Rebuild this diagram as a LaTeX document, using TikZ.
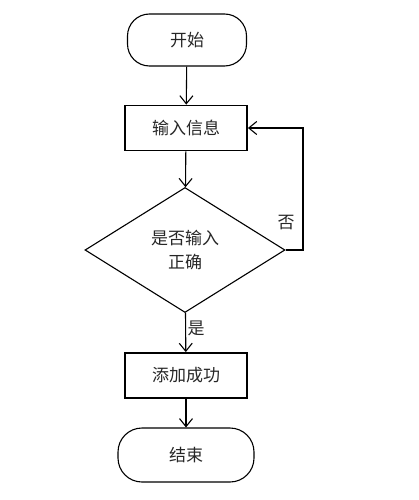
\documentclass[tikz,border=0pt]{standalone}
\usepackage{fontspec}
\newfontfamily\cjk{Noto Sans CJK SC}
\usetikzlibrary{arrows.meta,shapes.geometric}
\begin{document}
\begin{tikzpicture}[x=1pt,y=-1pt,
  every node/.style={font=\cjk\fontsize{17}{20}\selectfont, text=black!85},
  term/.style={draw, line width=1.1pt, rounded corners=22pt, minimum width=119pt, minimum height=52pt, inner sep=0pt},
  proc/.style={draw, line width=1.8pt, minimum width=122pt, minimum height=45pt, inner sep=0pt},
  dec/.style={draw, line width=1.1pt, diamond, aspect=1.6, minimum width=200pt, minimum height=125pt, inner sep=0pt, align=center},
  flow/.style={draw, line width=1.1pt, -{Straight Barb[length=8pt,width=13pt,line width=1.1pt]}}
]
\useasboundingbox (0,0) rectangle (418,500);
\node[term] (start) at (187,40) {开始};
\node[proc] (input) at (186,128) {输入信息};
\node[dec] (check) at (185,250) {是否输入\\[4pt]正确};
\node[proc] (add) at (186,375.5) {添加成功};
\node[term, minimum width=136pt, minimum height=54pt, rounded corners=24pt] (end) at (186,455) {结束};
\coordinate (c1) at (303,250);
\coordinate (c2) at (303,128);
\draw[flow] (start) -- (input);
\draw[flow] (input) -- (check);
\draw[flow] (check) -- node[right, xshift=-2pt, pos=0.4] {是} (add);
\draw[flow] (add) -- (end);
\draw[flow] (check.east) -- (c1) -- (c2) -- (input.east);
\node (no) at (286,223) {否};
\end{tikzpicture}
\end{document}
